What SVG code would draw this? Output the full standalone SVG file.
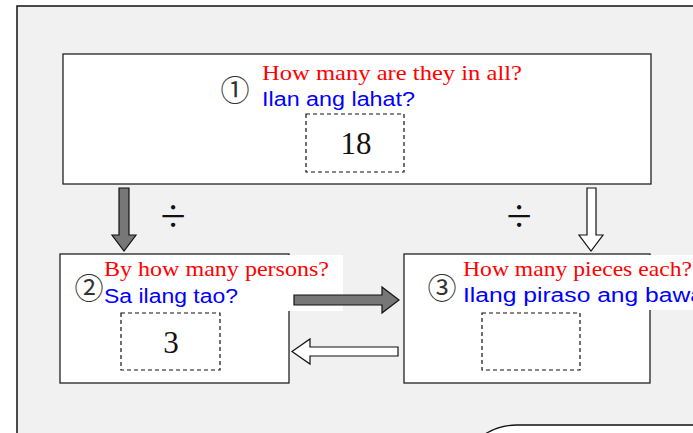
<svg xmlns="http://www.w3.org/2000/svg" width="693" height="433" viewBox="0 0 693 433">
<style>
.frame{fill:#f1f1f1;stroke:#111;stroke-width:1.5}
.box{fill:#fff;stroke:#222;stroke-width:1.3}
.bg{fill:#fff}
.dash{fill:none;stroke:#111;stroke-width:1.2;stroke-dasharray:4 3}
.en{font-family:"Liberation Serif",serif;font-size:22px;fill:#ff0000}
.fil{font-family:"Liberation Sans",sans-serif;font-size:20px;fill:#0000ff}
.num{font-family:"Noto Sans CJK JP","DejaVu Sans",sans-serif;font-size:29px;fill:#333;text-anchor:middle}
.val{font-family:"Liberation Serif",serif;font-size:31px;fill:#111;text-anchor:middle}
.div{font-family:"Liberation Serif",serif;font-size:46px;fill:#111;text-anchor:middle}
.ag{fill:#777;stroke:#111;stroke-width:1.2;stroke-linejoin:miter}
.aw{fill:#fff;stroke:#111;stroke-width:1.2;stroke-linejoin:miter}
</style>
<rect class="frame" x="17" y="6" width="700" height="440"/>
<g id="bottom-shape">
<rect x="457" y="425" width="300" height="120" rx="60" ry="60" fill="#fff" stroke="#111" stroke-width="1.3"/>
</g>
<g id="node1">
<rect class="box" x="63" y="54" width="588" height="130"/>
<text class="num" x="235" y="101">①</text>
<text class="en" x="262" y="80" textLength="260" lengthAdjust="spacingAndGlyphs">How many are they in all?</text>
<text class="fil" x="262" y="106" textLength="153" lengthAdjust="spacingAndGlyphs">Ilan ang lahat?</text>
<rect class="dash" x="306" y="114" width="98" height="58"/>
<text class="val" x="356" y="154">18</text>
</g>
<g id="node2">
<rect class="box" x="60" y="254" width="229" height="129"/>
<rect class="bg" x="100" y="255" width="243" height="56"/>
<text class="num" x="89" y="299">②</text>
<text class="en" x="104" y="276" textLength="225" lengthAdjust="spacingAndGlyphs">By how many persons?</text>
<text class="fil" x="104" y="303" textLength="134" lengthAdjust="spacingAndGlyphs">Sa ilang tao?</text>
<rect class="dash" x="121" y="313" width="99" height="57"/>
<text class="val" x="171" y="353">3</text>
</g>
<g id="node3">
<rect class="box" x="404" y="254" width="246" height="129"/>
<rect class="bg" x="458" y="255" width="240" height="55"/>
<text class="num" x="442" y="299">③</text>
<text class="en" x="463" y="276" textLength="229" lengthAdjust="spacingAndGlyphs">How many pieces each?</text>
<text class="fil" x="463" y="302" textLength="241" lengthAdjust="spacingAndGlyphs">Ilang piraso ang bawa</text>
<rect class="dash" x="482" y="313" width="98" height="57"/>
</g>
<g id="connectors">
<polygon class="ag" points="119,188 129,188 129,235 136,235 124,251 112,235 119,235"/>
<polygon class="aw" points="587,188 596,188 596,235 603,235 591,251 579,235 587,235"/>
<polygon class="ag" points="294,295 382,295 382,287 399,300 382,313 382,305 294,305"/>
<polygon class="aw" points="398,347 310,347 310,339 292,351.5 310,364 310,356 398,356"/>
<text class="div" x="173" y="232">÷</text>
<text class="div" x="519" y="232">÷</text>
</g>
</svg>
